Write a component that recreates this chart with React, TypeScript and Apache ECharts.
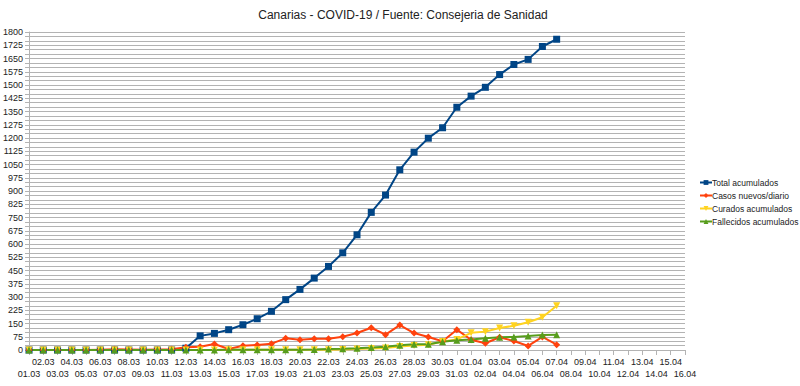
import React, { useEffect, useRef } from "react";
import * as echarts from "echarts";

const days: string[] = [
  "01.03","02.03","03.03","04.03","05.03","06.03","07.03","08.03","09.03","10.03",
  "11.03","12.03","13.03","14.03","15.03","16.03","17.03","18.03","19.03","20.03",
  "21.03","22.03","23.03","24.03","25.03","26.03","27.03","28.03","29.03","30.03","31.03",
  "01.04","02.04","03.04","04.04","05.04","06.04","07.04","08.04","09.04","10.04",
  "11.04","12.04","13.04","14.04","15.04","16.04",
];

const totalAcumulados: number[] = [
  0,0,0,0,0,0,0,0,0,0,0,10,
  80,94,115,143,177,219,285,343,407,473,550,652,779,877,1020,1120,1199,1258,1374,
  1437,1487,1559,1616,1645,1718,1759,
];
const casosNuevos: number[] = [
  0,0,0,0,0,2,4,3,2,3,4,15,
  18,34,6,24,28,36,66,58,64,64,75,96,126,87,141,96,74,50,115,
  58,38,72,51,23,74,30,
];
const curadosAcumulados: number[] = [
  0,0,0,0,0,0,0,0,0,0,0,0,
  0,0,1,1,1,1,1,1,1,2,3,5,8,12,20,26,30,48,60,
  97,104,125,137,157,185,250,
];
const fallecidosAcumulados: number[] = [
  0,0,0,0,0,0,0,0,0,0,0,0,
  0,0,1,1,1,1,1,2,3,5,7,10,14,19,27,32,33,47,55,
  60,66,72,74,79,85,86,
];

const seriesNames = ["Total acumulados", "Casos nuevos/diario", "Curados acumulados", "Fallecidos acumulados"];
const colors = ["#004586", "#ff420e", "#ffd320", "#579d1c"];

export default function App() {
  const ref = useRef<HTMLDivElement>(null);
  useEffect(() => {
    document.body.style.margin = "0";
    if (!ref.current) return;
    const chart = echarts.init(ref.current, null, { renderer: "svg" });
    const font = "'Liberation Sans', Arial, sans-serif";
    const mk = (name: string, data: number[], color: string, symbol: string, size: number, rotate = 0) => ({
      name,
      type: "line",
      data,
      symbol,
      symbolSize: size,
      symbolRotate: rotate,
      showSymbol: true,
      lineStyle: { color, width: 2 },
      itemStyle: { color },
      emphasis: { disabled: true },
    });
    chart.setOption({
      animation: false,
      backgroundColor: "#ffffff",
      color: colors,
      title: {
        text: "Canarias - COVID-19 / Fuente: Consejeria de Sanidad",
        left: 398,
        textAlign: "center",
        top: 4,
        textStyle: { fontFamily: font, fontSize: 12, fontWeight: "normal", color: "#222" },
      },
      legend: {
        orient: "vertical",
        left: 699,
        top: 178,
        padding: 0,
        itemGap: 4,
        itemWidth: 12,
        itemHeight: 6,
        textStyle: { fontFamily: font, fontSize: 8.5, color: "#222", padding: [0, 0, 0, -5] },
        data: seriesNames,
      },
      grid: { left: 28, right: 115, top: 32, bottom: 36, containLabel: false },
      xAxis: {
        type: "category",
        data: days,
        boundaryGap: false,
        axisLine: { show: true, lineStyle: { color: "#b3b3b3", width: 1 } },
        axisTick: { show: true, interval: 0, length: 5, lineStyle: { color: "#b3b3b3" } },
        axisLabel: {
          interval: 0,
          fontFamily: font,
          fontSize: 9,
          color: "#222",
          margin: 6,
          lineHeight: 12,
          formatter: (v: string, i: number) => (i % 2 === 0 ? "\n" + v : v),
        },
        splitLine: { show: false },
      },
      yAxis: {
        type: "value",
        min: 0,
        max: 1800,
        interval: 25,
        axisLine: { show: true, lineStyle: { color: "#b3b3b3", width: 1 } },
        axisTick: { show: true, length: 4, lineStyle: { color: "#b3b3b3" } },
        axisLabel: {
          fontFamily: font,
          fontSize: 9,
          color: "#222",
          margin: 6,
          formatter: (v: number) => (v % 75 === 0 ? String(v) : ""),
        },
        splitLine: { show: true, lineStyle: { color: "#b3b3b3", width: 1 } },
      },
      series: [
        mk(seriesNames[0], totalAcumulados, colors[0], "rect", 7),
        mk(seriesNames[1], casosNuevos, colors[1], "diamond", 7),
        mk(seriesNames[2], curadosAcumulados, colors[2], "triangle", 7, 180),
        mk(seriesNames[3], fallecidosAcumulados, colors[3], "triangle", 7),
      ],
    });
    return () => chart.dispose();
  }, []);
  return <div ref={ref} style={{ width: 800, height: 386 }} />;
}
